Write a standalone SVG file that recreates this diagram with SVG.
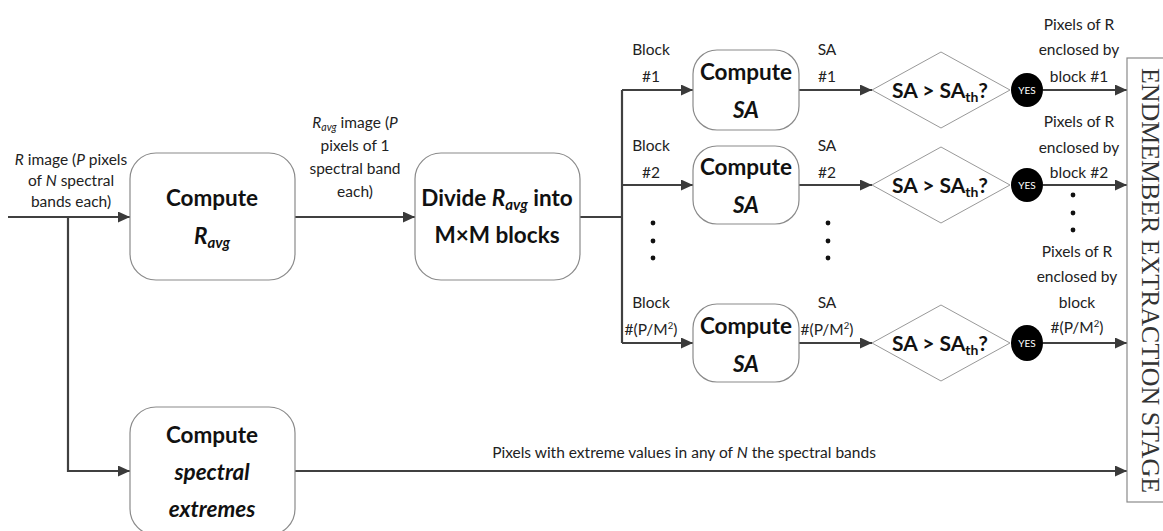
<svg xmlns="http://www.w3.org/2000/svg" width="1163" height="531" viewBox="0 0 1163 531">
<style>
.box{fill:#fff;stroke:#8a8a8a;stroke-width:1.2}
.dia{fill:#fff;stroke:#999;stroke-width:1}
.ln{fill:none;stroke:#404040;stroke-width:2.2}
.lbl{font-family:Lato,"Liberation Sans",sans-serif;font-size:15.5px;fill:#222;text-anchor:middle}
.ttl{font-family:Lato,"Liberation Sans",sans-serif;font-size:22.5px;font-weight:bold;fill:#111;text-anchor:middle}
.dq{font-family:Lato,"Liberation Sans",sans-serif;font-size:21px;font-weight:bold;fill:#111;text-anchor:middle}
.yes{font-family:Lato,"Liberation Sans",sans-serif;font-size:10px;fill:#fff;text-anchor:middle}
.dot{fill:#111}
.it{font-style:italic}
</style>
<defs>
<marker id="ah" viewBox="0 0 12 11" refX="12" refY="5.5" markerWidth="12" markerHeight="11" markerUnits="userSpaceOnUse" orient="auto">
<path d="M0,0 L12,5.5 L0,11 z" fill="#3a3a3a"/>
</marker>
</defs>

<g id="connectors">
<path class="ln" d="M8,217 H130" marker-end="url(#ah)"/>
<path class="ln" d="M295,217 H415" marker-end="url(#ah)"/>
<path class="ln" d="M580,217 H622"/>
<path class="ln" d="M622,90 V343"/>
<path class="ln" d="M622,90 H693" marker-end="url(#ah)"/>
<path class="ln" d="M622,185 H693" marker-end="url(#ah)"/>
<path class="ln" d="M622,343 H693" marker-end="url(#ah)"/>
<path class="ln" d="M799,90 H872" marker-end="url(#ah)"/>
<path class="ln" d="M799,185 H872" marker-end="url(#ah)"/>
<path class="ln" d="M799,343 H872" marker-end="url(#ah)"/>
<path class="ln" d="M1043,90 H1127" marker-end="url(#ah)"/>
<path class="ln" d="M1043,185 H1127" marker-end="url(#ah)"/>
<path class="ln" d="M1043,343 H1127" marker-end="url(#ah)"/>
<path class="ln" d="M68,217 V471 H130" marker-end="url(#ah)"/>
<path class="ln" d="M295,471 H1127" marker-end="url(#ah)"/>
</g>

<g id="labels">
<text class="lbl" x="71" y="165"><tspan class="it">R</tspan> image (<tspan class="it">P</tspan> pixels</text>
<text class="lbl" x="71" y="186">of <tspan class="it">N</tspan> spectral</text>
<text class="lbl" x="71" y="207">bands each)</text>

<text class="lbl" x="355" y="128"><tspan class="it">R</tspan><tspan class="it" font-size="10.5" dy="3">avg</tspan><tspan dy="-3"> image (</tspan><tspan class="it">P</tspan></text>
<text class="lbl" x="355" y="151">pixels of 1</text>
<text class="lbl" x="355" y="174">spectral band</text>
<text class="lbl" x="355" y="197">each)</text>

<text class="lbl" x="651" y="55">Block</text>
<text class="lbl" x="651" y="82">#1</text>
<text class="lbl" x="651" y="151">Block</text>
<text class="lbl" x="651" y="178">#2</text>
<text class="lbl" x="651" y="308">Block</text>
<text class="lbl" x="651" y="335">#(P/M<tspan font-size="9.5" dy="-6">2</tspan><tspan dy="6">)</tspan></text>

<text class="lbl" x="827" y="55">SA</text>
<text class="lbl" x="827" y="82">#1</text>
<text class="lbl" x="827" y="151">SA</text>
<text class="lbl" x="827" y="178">#2</text>
<text class="lbl" x="827" y="308">SA</text>
<text class="lbl" x="827" y="335">#(P/M<tspan font-size="9.5" dy="-6">2</tspan><tspan dy="6">)</tspan></text>

<circle class="dot" cx="653" cy="223" r="2.4"/>
<circle class="dot" cx="653" cy="241" r="2.4"/>
<circle class="dot" cx="653" cy="258" r="2.4"/>
<circle class="dot" cx="828" cy="223" r="2.4"/>
<circle class="dot" cx="828" cy="241" r="2.4"/>
<circle class="dot" cx="828" cy="258" r="2.4"/>
<circle class="dot" cx="1073" cy="195" r="2.4"/>
<circle class="dot" cx="1073" cy="213" r="2.4"/>
<circle class="dot" cx="1073" cy="230" r="2.4"/>

<text class="lbl" x="1079" y="30">Pixels of R</text>
<text class="lbl" x="1079" y="55">enclosed by</text>
<text class="lbl" x="1079" y="82">block #1</text>
<text class="lbl" x="1079" y="127">Pixels of R</text>
<text class="lbl" x="1079" y="153">enclosed by</text>
<text class="lbl" x="1079" y="178">block #2</text>
<text class="lbl" x="1077" y="257">Pixels of R</text>
<text class="lbl" x="1077" y="282">enclosed by</text>
<text class="lbl" x="1077" y="308">block</text>
<text class="lbl" x="1077" y="333">#(P/M<tspan font-size="9.5" dy="-6">2</tspan><tspan dy="6">)</tspan></text>

<text class="lbl" x="684" y="458">Pixels with extreme values in any of <tspan class="it">N</tspan> the spectral bands</text>
</g>

<g id="compute-ravg">
<rect class="box" x="130" y="153" width="165" height="127" rx="26"/>
<text class="ttl" x="212" y="206">Compute</text>
<text class="ttl" x="212" y="244"><tspan class="it">R</tspan><tspan class="it" font-size="15" dy="4">avg</tspan></text>
</g>

<g id="divide">
<rect class="box" x="415" y="153" width="165" height="127" rx="26"/>
<text class="ttl" x="497" y="206">Divide <tspan class="it">R</tspan><tspan class="it" font-size="15" dy="4">avg</tspan><tspan dy="-4"> into</tspan></text>
<text class="ttl" x="497" y="243">M×M blocks</text>
</g>

<g id="compute-sa-1">
<rect class="box" x="693" y="50" width="106" height="80" rx="24"/>
<text class="ttl" x="746" y="80">Compute</text>
<text class="ttl it" x="746" y="118">SA</text>
</g>
<g id="compute-sa-2">
<rect class="box" x="693" y="146" width="106" height="78" rx="24"/>
<text class="ttl" x="746" y="175">Compute</text>
<text class="ttl it" x="746" y="213">SA</text>
</g>
<g id="compute-sa-3">
<rect class="box" x="693" y="304" width="106" height="78" rx="24"/>
<text class="ttl" x="746" y="334">Compute</text>
<text class="ttl it" x="746" y="372">SA</text>
</g>

<g id="decision-1">
<polygon class="dia" points="872,90 941,52 1010,90 941,128"/>
<text class="dq" x="940" y="98">SA &gt; SA<tspan font-size="14" dy="4">th</tspan><tspan dy="-4">?</tspan></text>
</g>
<g id="decision-2">
<polygon class="dia" points="872,185 941,147 1010,185 941,223"/>
<text class="dq" x="940" y="193">SA &gt; SA<tspan font-size="14" dy="4">th</tspan><tspan dy="-4">?</tspan></text>
</g>
<g id="decision-3">
<polygon class="dia" points="872,343 941,305 1010,343 941,381"/>
<text class="dq" x="940" y="351">SA &gt; SA<tspan font-size="14" dy="4">th</tspan><tspan dy="-4">?</tspan></text>
</g>

<g id="yes-1">
<ellipse cx="1027" cy="90" rx="16" ry="17" fill="#000"/>
<text class="yes" x="1027" y="94">YES</text>
</g>
<g id="yes-2">
<ellipse cx="1027" cy="185" rx="16" ry="17" fill="#000"/>
<text class="yes" x="1027" y="189">YES</text>
</g>
<g id="yes-3">
<ellipse cx="1027" cy="343" rx="16" ry="18" fill="#000"/>
<text class="yes" x="1027" y="347">YES</text>
</g>

<g id="compute-extremes">
<rect class="box" x="130" y="407" width="165" height="128" rx="26"/>
<text class="ttl" x="212" y="443">Compute</text>
<text class="ttl it" x="212" y="480">spectral</text>
<text class="ttl it" x="212" y="517">extremes</text>
</g>

<g id="endmember-stage">
<rect class="box" x="1127" y="58" width="50" height="444"/>
<text transform="translate(1142,280.5) rotate(90)" font-family="'Liberation Serif','Times New Roman',serif" font-size="25.5" fill="#333" text-anchor="middle" textLength="425" lengthAdjust="spacingAndGlyphs">ENDMEMBER EXTRACTION STAGE</text>
</g>
</svg>
